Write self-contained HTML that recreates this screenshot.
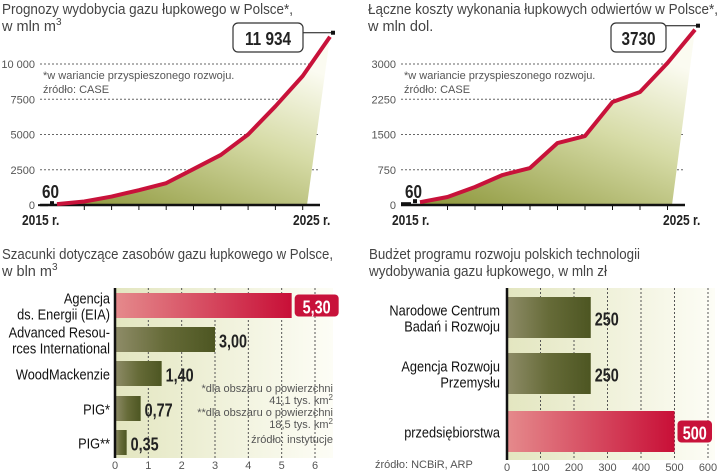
<!DOCTYPE html>
<html><head><meta charset="utf-8">
<style>
body{margin:0;background:#fff;width:720px;height:473px;overflow:hidden;font-family:"Liberation Sans Narrow","Liberation Sans",sans-serif;}
svg{display:block}
.t{font-size:14.5px;fill:#444}
.tk{font-size:11px;fill:#555}
.note{font-size:11px;fill:#555}
.yr{font-size:15px;font-weight:bold;fill:#222}
.cat{font-size:14.5px;fill:#111}
.val{font-size:18px;font-weight:bold;fill:#222}
</style></head><body>
<svg id="s" width="720" height="473">
<defs>
<linearGradient id="area" x1="0" y1="1" x2="0.6" y2="0">
<stop offset="0" stop-color="#8c963a"/><stop offset="0.6" stop-color="#d6dba6"/><stop offset="1" stop-color="#fbfbf1"/></linearGradient>
<linearGradient id="olive" x1="0" x2="1"><stop offset="0" stop-color="#8e8c68"/><stop offset="0.5" stop-color="#666b38"/><stop offset="1" stop-color="#4d5622"/></linearGradient>
<linearGradient id="redbar" x1="0" x2="1"><stop offset="0" stop-color="#e58a8c"/><stop offset="1" stop-color="#c80f37"/></linearGradient>
<linearGradient id="panel" x1="0" x2="1"><stop offset="0" stop-color="#e3e6c0"/><stop offset="1" stop-color="#fdfdf6"/></linearGradient>
</defs>
<g>
<text class="t" x="2" y="14" textLength="291" lengthAdjust="spacingAndGlyphs">Prognozy wydobycia gazu łupkowego w Polsce*,</text>
<text class="t" x="2" y="31">w mln m<tspan dy="-6" font-size="10">3</tspan></text>
<g id="c1"></g>
</g>
<g>
<text class="t" x="368" y="14" textLength="350" lengthAdjust="spacingAndGlyphs">Łączne koszty wykonania łupkowych odwiertów w Polsce*,</text>
<text class="t" x="368" y="31">w mln dol.</text>
<g id="c2"></g>
</g>
<g>
<text class="t" x="2" y="259" textLength="331" lengthAdjust="spacingAndGlyphs">Szacunki dotyczące zasobów gazu łupkowego w Polsce,</text>
<text class="t" x="2" y="276">w bln m<tspan dy="-6" font-size="10">3</tspan></text>
<g id="c3"></g>
<g class="note" text-anchor="end">
<text x="333" y="392">*dla obszaru o powierzchni</text>
<text x="333" y="404">41,1 tys. km<tspan dy="-4" font-size="8">2</tspan></text>
<text x="333" y="416">**dla obszaru o powierzchni</text>
<text x="333" y="428">18,5 tys. km<tspan dy="-4" font-size="8">2</tspan></text>
<text x="333" y="443">źródło: instytucje</text>
</g>
</g>
<g>
<text class="t" x="369" y="259" textLength="271" lengthAdjust="spacingAndGlyphs">Budżet programu rozwoju polskich technologii</text>
<text class="t" x="369" y="276" textLength="238" lengthAdjust="spacingAndGlyphs">wydobywania gazu łupkowego, w mln zł</text>
<text class="note" x="375" y="468">źródło: NCBiR, ARP</text>
<g id="c4"></g>
</g>
</svg>
<script>
const years=[2015,2016,2017,2018,2019,2020,2021,2022,2023,2024,2025];
const prodValues=[60,250,600,1050,1550,2550,3550,5000,7000,9150,11934];
const prodTicks=[0,2500,5000,7500,10000];
const prodTickLabels=["0","2500","5000","7500","10 000"];
const costValues=[60,170,383,638,787,1319,1468,2191,2404,3021,3730];
const costTicks=[0,750,1500,2250,3000];
const costTickLabels=["0","750","1500","2250","3000"];
const resCats=[["Agencja","ds. Energii (EIA)"],["Advanced Resou-","rces International"],["WoodMackenzie"],["PIG*"],["PIG**"]];
const resValues=[5.30,3.00,1.40,0.77,0.35];
const resLabels=["5,30","3,00","1,40","0,77","0,35"];
const resTicks=[0,1,2,3,4,5,6];
const budCats=[["Narodowe Centrum","Badań i Rozwoju"],["Agencja Rozwoju","Przemysłu"],["przedsiębiorstwa"]];
const budValues=[250,250,500];
const budTicks=[0,100,200,300,400,500,600];

const NS="http://www.w3.org/2000/svg";
function mk(p,tag,attrs,txt){const e=document.createElementNS(NS,tag);for(const k in attrs)e.setAttribute(k,attrs[k]);if(txt!==undefined)e.textContent=txt;p.appendChild(e);return e;}
function squeeze(e,f){const l=e.getComputedTextLength();e.setAttribute('textLength',(l*f).toFixed(1));e.setAttribute('lengthAdjust','spacingAndGlyphs');}

function lineChart(gid,values,ticks,tickLabels,max,x0,x1,gx0,gx1,labX,boxX,boxW,boxLabel,fillEnd,sOff,eOff){
 const g=document.getElementById(gid);
 const yb=205, ytop=64;
 const y=v=>yb-(v/max)*(yb-ytop);
 const x=i=>x0+(x1-x0)*i/(years.length-1);
 ticks.forEach((t,i)=>{
  if(t>0){const gl=mk(g,'line',{x1:gx0,x2:gx1,y1:y(t),y2:y(t),stroke:'#666','stroke-dasharray':'2,2','stroke-width':1});
  
  }
  const tl=mk(g,'text',{x:labX,y:y(t)+4,'text-anchor':'end',class:'tk'},tickLabels[i]);
  
  
 });
 let pts=values.map((v,i)=>x(i)+','+y(v));
 const area=mk(g,'polygon',{points:pts.join(' ')+' '+fillEnd+','+yb+' '+x(0)+','+yb,fill:'url(#area)'});
 
 
 const ax=mk(g,'line',{x1:gx0,x2:gx1+2,y1:yb,y2:yb,stroke:'#111','stroke-width':2.5});
 
 
 for(let i=1;i<years.length-1;i++){const tk=mk(g,'line',{x1:x(i),x2:x(i),y1:yb,y2:yb+5,stroke:'#111','stroke-width':1});
  
  }
 const ln=mk(g,'polyline',{points:pts.join(' '),fill:'none',stroke:'#c8123a','stroke-width':4,'stroke-linejoin':'round'});
 
 
 const l1=mk(g,'text',{x:x0-sOff,y:225,class:'yr'},years[0]+' r.');
 
 
 squeeze(l1,0.8);
 const l2=mk(g,'text',{x:x1-eOff,y:225,class:'yr'},years[years.length-1]+' r.');
 
 
 squeeze(l2,0.8);
 const n=mk(g,'text',{x:x0-15,y:198,class:'val','font-size':17},String(values[0]));
 
 
 squeeze(n,0.85);
 mk(g,'line',{x1:x0-19,x2:x0-9,y1:y(values[0])+1,y2:y(values[0])+1,stroke:'#111','stroke-width':2});
 mk(g,'rect',{x:x0-7,y:y(values[0])-3,width:4,height:4,fill:'#111'});
 const ly=y(values[values.length-1]);
 mk(g,'rect',{x:x1+1,y:ly-6,width:4,height:4,fill:'#111'});
 mk(g,'line',{x1:boxX+boxW,x2:x1+1,y1:ly-4,y2:ly-4,stroke:'#111','stroke-width':1});
 const bx=mk(g,'rect',{x:boxX,y:23,width:boxW,height:29,rx:5,fill:'#fff',stroke:'#333','stroke-width':1.2});
 
 
 const bt=mk(g,'text',{x:boxX+boxW/2,y:45,'text-anchor':'middle',class:'val','font-size':21},boxLabel);
 
 
 squeeze(bt,0.85);
 const nt=mk(g,'text',{x:gx0+3,y:79,class:'note'},'*w wariancie przyspieszonego rozwoju.');
 
 
 const sr=mk(g,'text',{x:gx0+3,y:93,class:'note'},'źródło: CASE');
 
 
}
lineChart('c1',prodValues,prodTicks,prodTickLabels,10000,57,330,40,318,35,233,70,'11 934',307,35,37);
lineChart('c2',costValues,costTicks,costTickLabels,3000,420,695,401,683,396,611,55,'3730',672,28,32);

function barChart(gid,cats,values,labels,ticks,max,ax0,ax1,ytop,ybot,barTops,barH,redIdx,panelR,catX,fs){
 const g=document.getElementById(gid);
 const x=v=>ax0+(v/max)*(ax1-ax0);
 const p=mk(g,'rect',{x:ax0,y:ytop,width:panelR-ax0,height:ybot-ytop,fill:'url(#panel)'});
 
 
 ticks.forEach(t=>{
  if(t>0){const gl=mk(g,'line',{x1:x(t),x2:x(t),y1:ytop,y2:ybot,stroke:'#555','stroke-dasharray':'2,2'});
  
  }
  const tl=mk(g,'text',{x:x(t),y:ybot+11,'text-anchor':'middle',class:'tk'},String(t));
  
  
 });
 values.forEach((v,i)=>{
  const red=i===redIdx;
  const b=mk(g,'rect',{x:ax0,y:barTops[i],width:x(v)-ax0,height:barH,fill:red?'url(#redbar)':'url(#olive)'});
  
  
  const cy=barTops[i]+barH/2;
  const lines=cats[i];
  lines.forEach((s,j)=>{
   const c=mk(g,'text',{x:catX,y:cy+6+(j-(lines.length-1)/2)*16,'text-anchor':'end',class:'cat','font-size':fs},s);
   
   
   squeeze(c,0.88);
  });
  if(red){
   const w=labels[i].length*9.5+6;
   const r=mk(g,'rect',{x:x(v)+3,y:cy-11,width:w,height:22,rx:4,fill:'#c8123a'});
   
   
   const t=mk(g,'text',{x:x(v)+3+w/2,y:cy+8,'text-anchor':'middle',class:'val','font-size':20,style:'fill:#fff'},labels[i]);
   
   
   squeeze(t,0.8);
  } else {
   const t=mk(g,'text',{x:x(v)+4,y:cy+8,class:'val','font-size':20},labels[i]);
   
   
   squeeze(t,0.8);
  }
 });
 const a=mk(g,'line',{x1:ax0,x2:ax0,y1:ytop,y2:ybot,stroke:'#111','stroke-width':2.5});
 
 
}
barChart('c3',resCats,resValues,resLabels,resTicks,6,115,315,288,458,[293,327,361,396,430],25,0,333,110,16);
barChart('c4',budCats,budValues,budValues.map(String),budTicks,600,507,708,288,460,[297,353,411],41,2,715,500,16);
</script>
</body></html>
